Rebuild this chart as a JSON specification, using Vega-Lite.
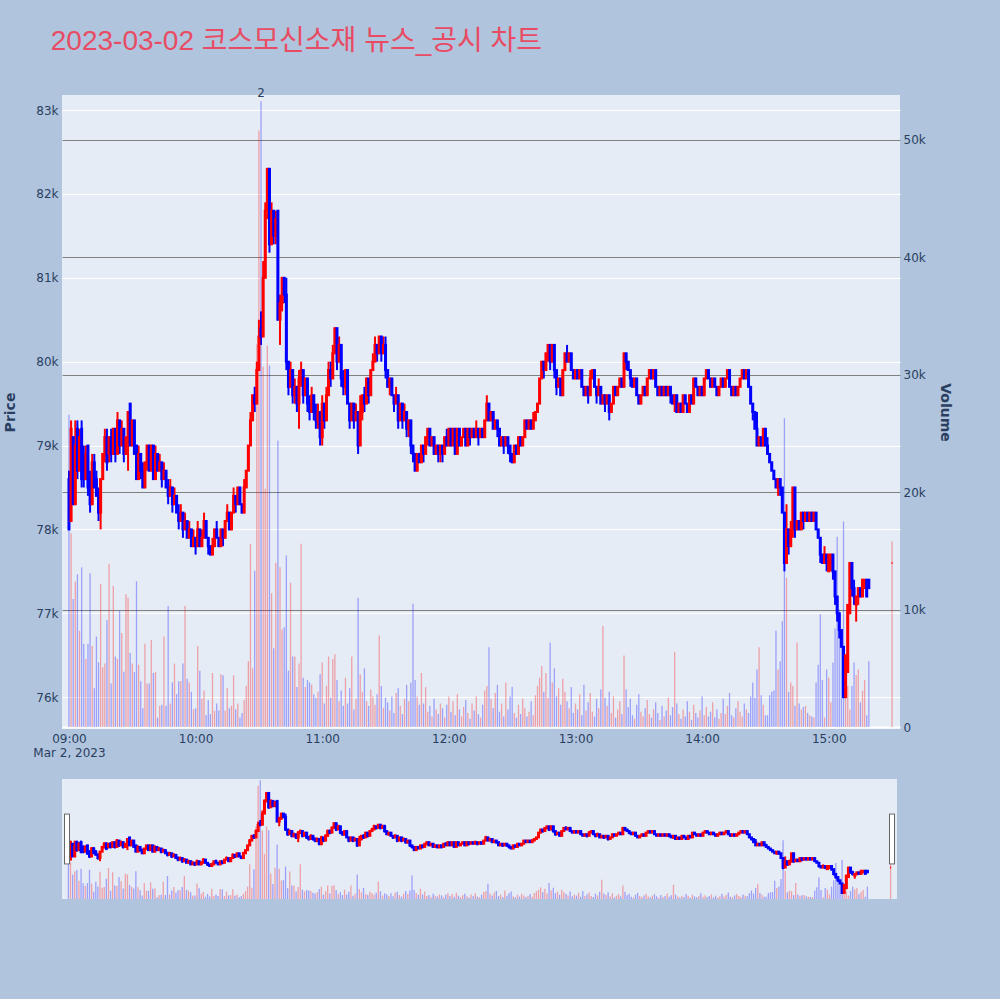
{
"$schema": "https://vega.github.io/schema/vega-lite/v6.json",
"background": "#B0C4DE",
"padding": {"left": 3, "right": 48, "top": 28, "bottom": 100},
"title": {"text": "2023-03-02 코스모신소재 뉴스_공시 차트", "anchor": "start", "dx": 47, "font": "Liberation Sans, Noto Sans CJK KR", "fontSize": 28, "fontWeight": "normal", "color": "#E84C64", "offset": 31},
"config": {"view": {"fill": "#E5ECF6", "stroke": null}, "axis": {"domain": false, "ticks": false, "labelFont": "DejaVu Sans", "labelFontSize": 12, "labelColor": "#2a3f5f", "titleFont": "DejaVu Sans", "titleFontSize": 14, "titleFontWeight": "bold", "titleColor": "#2a3f5f"}},
"datasets": {
"k": [
{"t":"2023-03-02T09:00","o":78600,"h":78700,"l":78000,"c":78000,"v":26600},
{"t":"2023-03-02T09:01","o":78100,"h":79300,"l":78100,"c":79200,"v":16500},
{"t":"2023-03-02T09:02","o":79100,"h":79100,"l":78300,"c":78300,"v":10900},
{"t":"2023-03-02T09:03","o":78300,"h":79300,"l":78300,"c":79000,"v":12400},
{"t":"2023-03-02T09:04","o":79200,"h":79300,"l":78600,"c":78700,"v":13000},
{"t":"2023-03-02T09:05","o":78700,"h":79200,"l":78700,"c":79100,"v":8200},
{"t":"2023-03-02T09:06","o":79200,"h":79300,"l":78500,"c":78600,"v":13600},
{"t":"2023-03-02T09:07","o":78900,"h":79000,"l":78500,"c":78600,"v":7100},
{"t":"2023-03-02T09:08","o":78600,"h":79000,"l":78600,"c":78900,"v":5800},
{"t":"2023-03-02T09:09","o":79000,"h":79000,"l":78400,"c":78500,"v":7100},
{"t":"2023-03-02T09:10","o":78600,"h":78700,"l":78200,"c":78300,"v":13100},
{"t":"2023-03-02T09:11","o":78300,"h":78900,"l":78300,"c":78800,"v":6900},
{"t":"2023-03-02T09:12","o":78800,"h":78900,"l":78500,"c":78500,"v":3300},
{"t":"2023-03-02T09:13","o":78600,"h":78700,"l":78400,"c":78400,"v":7700},
{"t":"2023-03-02T09:14","o":78400,"h":78500,"l":78100,"c":78200,"v":5500},
{"t":"2023-03-02T09:15","o":78200,"h":78600,"l":78000,"c":78600,"v":12200},
{"t":"2023-03-02T09:16","o":78600,"h":78900,"l":78600,"c":78900,"v":5100},
{"t":"2023-03-02T09:17","o":78900,"h":79200,"l":78800,"c":79100,"v":5400},
{"t":"2023-03-02T09:18","o":79100,"h":79200,"l":78700,"c":78800,"v":9100},
{"t":"2023-03-02T09:19","o":78900,"h":79100,"l":78800,"c":79100,"v":13900},
{"t":"2023-03-02T09:20","o":79100,"h":79200,"l":78800,"c":78900,"v":3700},
{"t":"2023-03-02T09:21","o":78900,"h":79200,"l":78900,"c":79200,"v":12000},
{"t":"2023-03-02T09:22","o":79200,"h":79200,"l":78800,"c":78900,"v":6000},
{"t":"2023-03-02T09:23","o":78900,"h":79400,"l":78900,"c":79300,"v":5800},
{"t":"2023-03-02T09:24","o":79300,"h":79300,"l":78900,"c":79000,"v":9900},
{"t":"2023-03-02T09:25","o":79000,"h":79300,"l":79000,"c":79200,"v":8000},
{"t":"2023-03-02T09:26","o":79200,"h":79200,"l":78800,"c":78900,"v":4700},
{"t":"2023-03-02T09:27","o":78900,"h":79100,"l":78900,"c":79100,"v":11300},
{"t":"2023-03-02T09:28","o":79100,"h":79400,"l":78700,"c":79400,"v":11000},
{"t":"2023-03-02T09:29","o":79500,"h":79500,"l":79000,"c":79000,"v":6300},
{"t":"2023-03-02T09:30","o":79000,"h":79300,"l":79000,"c":79300,"v":5400},
{"t":"2023-03-02T09:31","o":79300,"h":79300,"l":78900,"c":78900,"v":4700},
{"t":"2023-03-02T09:32","o":79000,"h":79000,"l":78600,"c":78600,"v":12400},
{"t":"2023-03-02T09:33","o":78600,"h":79000,"l":78600,"c":78900,"v":5300},
{"t":"2023-03-02T09:34","o":78900,"h":78900,"l":78600,"c":78700,"v":3900},
{"t":"2023-03-02T09:35","o":78700,"h":78800,"l":78500,"c":78500,"v":1600},
{"t":"2023-03-02T09:36","o":78500,"h":78800,"l":78500,"c":78800,"v":7100},
{"t":"2023-03-02T09:37","o":78800,"h":79000,"l":78700,"c":79000,"v":3700},
{"t":"2023-03-02T09:38","o":79000,"h":79000,"l":78700,"c":78700,"v":3700},
{"t":"2023-03-02T09:39","o":78700,"h":79000,"l":78700,"c":79000,"v":7400},
{"t":"2023-03-02T09:40","o":79000,"h":79000,"l":78600,"c":78600,"v":4600},
{"t":"2023-03-02T09:41","o":78600,"h":79000,"l":78600,"c":78900,"v":4700},
{"t":"2023-03-02T09:42","o":78900,"h":78900,"l":78700,"c":78700,"v":800},
{"t":"2023-03-02T09:43","o":78700,"h":78900,"l":78700,"c":78800,"v":1800},
{"t":"2023-03-02T09:44","o":78800,"h":78800,"l":78500,"c":78600,"v":1900},
{"t":"2023-03-02T09:45","o":78600,"h":78800,"l":78600,"c":78700,"v":7700},
{"t":"2023-03-02T09:46","o":78700,"h":78700,"l":78500,"c":78500,"v":1800},
{"t":"2023-03-02T09:47","o":78500,"h":78600,"l":78300,"c":78400,"v":10300},
{"t":"2023-03-02T09:48","o":78400,"h":78600,"l":78400,"c":78500,"v":2000},
{"t":"2023-03-02T09:49","o":78500,"h":78500,"l":78200,"c":78300,"v":3800},
{"t":"2023-03-02T09:50","o":78300,"h":78500,"l":78300,"c":78400,"v":5400},
{"t":"2023-03-02T09:51","o":78400,"h":78400,"l":78200,"c":78200,"v":2800},
{"t":"2023-03-02T09:52","o":78200,"h":78300,"l":78000,"c":78100,"v":3900},
{"t":"2023-03-02T09:53","o":78100,"h":78300,"l":78100,"c":78200,"v":3900},
{"t":"2023-03-02T09:54","o":78200,"h":78200,"l":77900,"c":78000,"v":5400},
{"t":"2023-03-02T09:55","o":78000,"h":78200,"l":78000,"c":78100,"v":10300},
{"t":"2023-03-02T09:56","o":78100,"h":78100,"l":77900,"c":77900,"v":4100},
{"t":"2023-03-02T09:57","o":77900,"h":78100,"l":77900,"c":78000,"v":3800},
{"t":"2023-03-02T09:58","o":78000,"h":78000,"l":77800,"c":77800,"v":3000},
{"t":"2023-03-02T09:59","o":77800,"h":78000,"l":77800,"c":77900,"v":1500},
{"t":"2023-03-02T10:00","o":77900,"h":77900,"l":77700,"c":77800,"v":1600},
{"t":"2023-03-02T10:01","o":77800,"h":78100,"l":77800,"c":78000,"v":6900},
{"t":"2023-03-02T10:02","o":78000,"h":78000,"l":77800,"c":77800,"v":4800},
{"t":"2023-03-02T10:03","o":77800,"h":78000,"l":77800,"c":77900,"v":2400},
{"t":"2023-03-02T10:04","o":77900,"h":78200,"l":77900,"c":78100,"v":3100},
{"t":"2023-03-02T10:05","o":78100,"h":78100,"l":77900,"c":77900,"v":1000},
{"t":"2023-03-02T10:06","o":77900,"h":77900,"l":77700,"c":77800,"v":2300},
{"t":"2023-03-02T10:07","o":77800,"h":77800,"l":77700,"c":77700,"v":1100},
{"t":"2023-03-02T10:08","o":77700,"h":77900,"l":77700,"c":77800,"v":4600},
{"t":"2023-03-02T10:09","o":77800,"h":78000,"l":77800,"c":78000,"v":1400},
{"t":"2023-03-02T10:10","o":78000,"h":78100,"l":77900,"c":77900,"v":2000},
{"t":"2023-03-02T10:11","o":77900,"h":77900,"l":77800,"c":77800,"v":1400},
{"t":"2023-03-02T10:12","o":77800,"h":78000,"l":77800,"c":78000,"v":4500},
{"t":"2023-03-02T10:13","o":78000,"h":78000,"l":77800,"c":77900,"v":4400},
{"t":"2023-03-02T10:14","o":77900,"h":78100,"l":77900,"c":78100,"v":1400},
{"t":"2023-03-02T10:15","o":78100,"h":78300,"l":78100,"c":78200,"v":3300},
{"t":"2023-03-02T10:16","o":78200,"h":78200,"l":78000,"c":78000,"v":1600},
{"t":"2023-03-02T10:17","o":78000,"h":78200,"l":78000,"c":78200,"v":1800},
{"t":"2023-03-02T10:18","o":78200,"h":78500,"l":78200,"c":78400,"v":4400},
{"t":"2023-03-02T10:19","o":78400,"h":78400,"l":78200,"c":78300,"v":1500},
{"t":"2023-03-02T10:20","o":78300,"h":78500,"l":78300,"c":78500,"v":2000},
{"t":"2023-03-02T10:21","o":78500,"h":78500,"l":78300,"c":78300,"v":800},
{"t":"2023-03-02T10:22","o":78300,"h":78300,"l":78200,"c":78200,"v":1200},
{"t":"2023-03-02T10:23","o":78200,"h":78600,"l":78200,"c":78500,"v":2300},
{"t":"2023-03-02T10:24","o":78500,"h":78700,"l":78500,"c":78700,"v":3500},
{"t":"2023-03-02T10:25","o":78700,"h":79000,"l":78700,"c":79000,"v":5600},
{"t":"2023-03-02T10:26","o":79000,"h":79400,"l":79000,"c":79300,"v":15600},
{"t":"2023-03-02T10:27","o":79300,"h":79600,"l":79300,"c":79600,"v":5000},
{"t":"2023-03-02T10:28","o":79600,"h":79700,"l":79400,"c":79500,"v":13300},
{"t":"2023-03-02T10:29","o":79500,"h":80000,"l":79500,"c":79900,"v":32600},
{"t":"2023-03-02T10:30","o":79900,"h":80500,"l":79900,"c":80300,"v":50800},
{"t":"2023-03-02T10:31","o":80400,"h":80600,"l":80200,"c":80300,"v":53300},
{"t":"2023-03-02T10:32","o":80300,"h":81200,"l":80300,"c":81000,"v":30700},
{"t":"2023-03-02T10:33","o":81000,"h":81900,"l":81000,"c":81800,"v":20300},
{"t":"2023-03-02T10:34","o":81800,"h":82300,"l":81700,"c":82300,"v":32500},
{"t":"2023-03-02T10:35","o":82300,"h":82300,"l":81300,"c":81400,"v":30800},
{"t":"2023-03-02T10:36","o":81400,"h":81900,"l":81400,"c":81800,"v":11400},
{"t":"2023-03-02T10:37","o":81800,"h":81800,"l":81400,"c":81500,"v":6700},
{"t":"2023-03-02T10:38","o":81500,"h":81800,"l":81400,"c":81700,"v":14000},
{"t":"2023-03-02T10:39","o":81800,"h":81800,"l":80500,"c":80500,"v":24400},
{"t":"2023-03-02T10:40","o":80500,"h":80800,"l":80200,"c":80700,"v":13600},
{"t":"2023-03-02T10:41","o":80700,"h":81000,"l":80600,"c":81000,"v":8300},
{"t":"2023-03-02T10:42","o":81000,"h":81000,"l":80700,"c":80800,"v":8500},
{"t":"2023-03-02T10:43","o":80800,"h":81000,"l":79900,"c":80000,"v":14600},
{"t":"2023-03-02T10:44","o":80000,"h":80000,"l":79600,"c":79700,"v":4800},
{"t":"2023-03-02T10:45","o":79700,"h":80000,"l":79700,"c":79900,"v":12300},
{"t":"2023-03-02T10:46","o":79900,"h":79900,"l":79500,"c":79600,"v":6000},
{"t":"2023-03-02T10:47","o":79600,"h":79800,"l":79500,"c":79700,"v":6000},
{"t":"2023-03-02T10:48","o":79700,"h":79700,"l":79400,"c":79500,"v":3400},
{"t":"2023-03-02T10:49","o":79500,"h":79900,"l":79200,"c":79800,"v":5400},
{"t":"2023-03-02T10:50","o":79800,"h":80000,"l":79700,"c":79900,"v":15600},
{"t":"2023-03-02T10:51","o":79900,"h":79900,"l":79500,"c":79600,"v":4200},
{"t":"2023-03-02T10:52","o":79600,"h":79800,"l":79600,"c":79800,"v":3400},
{"t":"2023-03-02T10:53","o":79800,"h":79800,"l":79400,"c":79500,"v":4000},
{"t":"2023-03-02T10:54","o":79500,"h":79600,"l":79300,"c":79400,"v":3800},
{"t":"2023-03-02T10:55","o":79400,"h":79700,"l":79400,"c":79600,"v":3600},
{"t":"2023-03-02T10:56","o":79600,"h":79600,"l":79300,"c":79400,"v":2800},
{"t":"2023-03-02T10:57","o":79400,"h":79500,"l":79200,"c":79300,"v":2500},
{"t":"2023-03-02T10:58","o":79300,"h":79500,"l":79200,"c":79400,"v":3000},
{"t":"2023-03-02T10:59","o":79400,"h":79400,"l":79000,"c":79100,"v":4500},
{"t":"2023-03-02T11:00","o":79100,"h":79600,"l":79000,"c":79500,"v":5500},
{"t":"2023-03-02T11:01","o":79500,"h":79500,"l":79200,"c":79300,"v":2000},
{"t":"2023-03-02T11:02","o":79300,"h":79700,"l":79300,"c":79600,"v":3500},
{"t":"2023-03-02T11:03","o":79600,"h":80000,"l":79600,"c":79900,"v":6000},
{"t":"2023-03-02T11:04","o":79900,"h":80000,"l":79700,"c":79800,"v":2500},
{"t":"2023-03-02T11:05","o":79800,"h":80200,"l":79800,"c":80100,"v":5800},
{"t":"2023-03-02T11:06","o":80100,"h":80400,"l":80100,"c":80400,"v":6200},
{"t":"2023-03-02T11:07","o":80400,"h":80400,"l":79900,"c":80000,"v":4000},
{"t":"2023-03-02T11:08","o":80000,"h":80300,"l":80000,"c":80200,"v":2200},
{"t":"2023-03-02T11:09","o":80200,"h":80200,"l":79700,"c":79800,"v":3100},
{"t":"2023-03-02T11:10","o":79800,"h":79900,"l":79600,"c":79700,"v":1800},
{"t":"2023-03-02T11:11","o":79700,"h":79900,"l":79600,"c":79900,"v":4200},
{"t":"2023-03-02T11:12","o":79900,"h":79900,"l":79500,"c":79500,"v":2000},
{"t":"2023-03-02T11:13","o":79500,"h":79500,"l":79200,"c":79300,"v":3300},
{"t":"2023-03-02T11:14","o":79300,"h":79500,"l":79300,"c":79500,"v":6000},
{"t":"2023-03-02T11:15","o":79500,"h":79500,"l":79200,"c":79300,"v":1500},
{"t":"2023-03-02T11:16","o":79300,"h":79500,"l":79300,"c":79400,"v":2400},
{"t":"2023-03-02T11:17","o":79400,"h":79400,"l":78900,"c":79000,"v":11000},
{"t":"2023-03-02T11:18","o":79000,"h":79600,"l":79000,"c":79400,"v":4500},
{"t":"2023-03-02T11:19","o":79400,"h":79600,"l":79300,"c":79600,"v":3000},
{"t":"2023-03-02T11:20","o":79600,"h":79700,"l":79400,"c":79500,"v":5000},
{"t":"2023-03-02T11:21","o":79500,"h":79800,"l":79500,"c":79800,"v":2200},
{"t":"2023-03-02T11:22","o":79800,"h":79800,"l":79500,"c":79600,"v":1800},
{"t":"2023-03-02T11:23","o":79600,"h":79900,"l":79600,"c":79900,"v":3200},
{"t":"2023-03-02T11:24","o":79900,"h":80100,"l":79900,"c":80000,"v":2600},
{"t":"2023-03-02T11:25","o":80000,"h":80300,"l":80000,"c":80200,"v":1900},
{"t":"2023-03-02T11:26","o":80200,"h":80200,"l":80000,"c":80100,"v":2800},
{"t":"2023-03-02T11:27","o":80100,"h":80300,"l":80100,"c":80300,"v":7800},
{"t":"2023-03-02T11:28","o":80300,"h":80300,"l":80000,"c":80100,"v":3500},
{"t":"2023-03-02T11:29","o":80100,"h":80300,"l":80100,"c":80200,"v":1600},
{"t":"2023-03-02T11:30","o":80200,"h":80300,"l":79800,"c":79900,"v":2500},
{"t":"2023-03-02T11:31","o":79900,"h":79900,"l":79700,"c":79700,"v":2100},
{"t":"2023-03-02T11:32","o":79700,"h":79800,"l":79600,"c":79800,"v":1400},
{"t":"2023-03-02T11:33","o":79800,"h":79800,"l":79600,"c":79600,"v":2600},
{"t":"2023-03-02T11:34","o":79600,"h":79600,"l":79400,"c":79500,"v":1200},
{"t":"2023-03-02T11:35","o":79500,"h":79700,"l":79500,"c":79600,"v":2900},
{"t":"2023-03-02T11:36","o":79600,"h":79600,"l":79200,"c":79300,"v":3300},
{"t":"2023-03-02T11:37","o":79300,"h":79500,"l":79300,"c":79500,"v":1800},
{"t":"2023-03-02T11:38","o":79500,"h":79500,"l":79200,"c":79300,"v":1100},
{"t":"2023-03-02T11:39","o":79300,"h":79500,"l":79300,"c":79400,"v":2400},
{"t":"2023-03-02T11:40","o":79400,"h":79400,"l":79100,"c":79200,"v":3600},
{"t":"2023-03-02T11:41","o":79200,"h":79300,"l":79100,"c":79300,"v":2200},
{"t":"2023-03-02T11:42","o":79300,"h":79300,"l":78900,"c":79000,"v":3800},
{"t":"2023-03-02T11:43","o":79000,"h":79000,"l":78800,"c":78900,"v":10500},
{"t":"2023-03-02T11:44","o":78900,"h":78900,"l":78700,"c":78700,"v":4000},
{"t":"2023-03-02T11:45","o":78700,"h":78900,"l":78700,"c":78900,"v":2600},
{"t":"2023-03-02T11:46","o":78900,"h":78900,"l":78800,"c":78800,"v":1900},
{"t":"2023-03-02T11:47","o":78800,"h":79000,"l":78800,"c":79000,"v":4600},
{"t":"2023-03-02T11:48","o":79000,"h":79000,"l":78800,"c":78900,"v":2000},
{"t":"2023-03-02T11:49","o":78900,"h":79100,"l":78900,"c":79100,"v":3400},
{"t":"2023-03-02T11:50","o":79100,"h":79200,"l":79000,"c":79200,"v":1300},
{"t":"2023-03-02T11:51","o":79200,"h":79200,"l":79000,"c":79000,"v":1800},
{"t":"2023-03-02T11:52","o":79000,"h":79100,"l":79000,"c":79100,"v":900},
{"t":"2023-03-02T11:53","o":79100,"h":79100,"l":78900,"c":78900,"v":2400},
{"t":"2023-03-02T11:54","o":78900,"h":79000,"l":78900,"c":79000,"v":1500},
{"t":"2023-03-02T11:55","o":79000,"h":79000,"l":78800,"c":78900,"v":1100},
{"t":"2023-03-02T11:56","o":78900,"h":79000,"l":78800,"c":79000,"v":2000},
{"t":"2023-03-02T11:57","o":79000,"h":79000,"l":78800,"c":78900,"v":1600},
{"t":"2023-03-02T11:58","o":78900,"h":79100,"l":78900,"c":79100,"v":800},
{"t":"2023-03-02T11:59","o":79100,"h":79200,"l":79000,"c":79000,"v":1900},
{"t":"2023-03-02T12:00","o":79000,"h":79200,"l":79000,"c":79200,"v":2600},
{"t":"2023-03-02T12:01","o":79200,"h":79200,"l":79000,"c":79000,"v":1300},
{"t":"2023-03-02T12:02","o":79000,"h":79200,"l":79000,"c":79200,"v":2200},
{"t":"2023-03-02T12:03","o":79200,"h":79200,"l":78900,"c":78900,"v":1000},
{"t":"2023-03-02T12:04","o":78900,"h":79200,"l":78900,"c":79200,"v":2800},
{"t":"2023-03-02T12:05","o":79200,"h":79200,"l":79000,"c":79000,"v":1500},
{"t":"2023-03-02T12:06","o":79000,"h":79100,"l":79000,"c":79100,"v":900},
{"t":"2023-03-02T12:07","o":79100,"h":79200,"l":79100,"c":79200,"v":1700},
{"t":"2023-03-02T12:08","o":79200,"h":79200,"l":79000,"c":79000,"v":2300},
{"t":"2023-03-02T12:09","o":79000,"h":79200,"l":79000,"c":79200,"v":1200},
{"t":"2023-03-02T12:10","o":79200,"h":79200,"l":79000,"c":79100,"v":700},
{"t":"2023-03-02T12:11","o":79100,"h":79200,"l":79100,"c":79200,"v":2000},
{"t":"2023-03-02T12:12","o":79200,"h":79200,"l":79100,"c":79100,"v":1400},
{"t":"2023-03-02T12:13","o":79100,"h":79300,"l":79100,"c":79200,"v":2600},
{"t":"2023-03-02T12:14","o":79200,"h":79200,"l":79000,"c":79100,"v":1100},
{"t":"2023-03-02T12:15","o":79100,"h":79200,"l":79100,"c":79200,"v":800},
{"t":"2023-03-02T12:16","o":79200,"h":79200,"l":79100,"c":79100,"v":1900},
{"t":"2023-03-02T12:17","o":79100,"h":79300,"l":79100,"c":79300,"v":3100},
{"t":"2023-03-02T12:18","o":79300,"h":79600,"l":79300,"c":79500,"v":3500},
{"t":"2023-03-02T12:19","o":79500,"h":79500,"l":79300,"c":79300,"v":6800},
{"t":"2023-03-02T12:20","o":79300,"h":79400,"l":79300,"c":79400,"v":2400},
{"t":"2023-03-02T12:21","o":79400,"h":79400,"l":79200,"c":79200,"v":1600},
{"t":"2023-03-02T12:22","o":79200,"h":79300,"l":79200,"c":79300,"v":2900},
{"t":"2023-03-02T12:23","o":79300,"h":79300,"l":79100,"c":79200,"v":3600},
{"t":"2023-03-02T12:24","o":79200,"h":79200,"l":79000,"c":79000,"v":1300},
{"t":"2023-03-02T12:25","o":79000,"h":79100,"l":79000,"c":79100,"v":2000},
{"t":"2023-03-02T12:26","o":79100,"h":79100,"l":78900,"c":79000,"v":900},
{"t":"2023-03-02T12:27","o":79000,"h":79100,"l":79000,"c":79100,"v":3800},
{"t":"2023-03-02T12:28","o":79100,"h":79100,"l":78900,"c":79000,"v":1500},
{"t":"2023-03-02T12:29","o":79000,"h":79000,"l":78800,"c":78900,"v":2600},
{"t":"2023-03-02T12:30","o":78900,"h":78900,"l":78800,"c":78800,"v":3400},
{"t":"2023-03-02T12:31","o":78800,"h":79000,"l":78800,"c":79000,"v":1200},
{"t":"2023-03-02T12:32","o":79000,"h":79000,"l":78900,"c":78900,"v":800},
{"t":"2023-03-02T12:33","o":78900,"h":79100,"l":78900,"c":79100,"v":1900},
{"t":"2023-03-02T12:34","o":79100,"h":79100,"l":79000,"c":79000,"v":1100},
{"t":"2023-03-02T12:35","o":79000,"h":79100,"l":79000,"c":79100,"v":2400},
{"t":"2023-03-02T12:36","o":79100,"h":79300,"l":79100,"c":79300,"v":1600},
{"t":"2023-03-02T12:37","o":79300,"h":79300,"l":79200,"c":79200,"v":900},
{"t":"2023-03-02T12:38","o":79200,"h":79300,"l":79200,"c":79300,"v":1300},
{"t":"2023-03-02T12:39","o":79300,"h":79300,"l":79200,"c":79200,"v":2200},
{"t":"2023-03-02T12:40","o":79200,"h":79400,"l":79200,"c":79300,"v":1000},
{"t":"2023-03-02T12:41","o":79300,"h":79400,"l":79300,"c":79400,"v":2700},
{"t":"2023-03-02T12:42","o":79400,"h":79500,"l":79400,"c":79500,"v":3500},
{"t":"2023-03-02T12:43","o":79500,"h":79800,"l":79500,"c":79800,"v":4200},
{"t":"2023-03-02T12:44","o":79800,"h":80000,"l":79800,"c":80000,"v":5200},
{"t":"2023-03-02T12:45","o":80000,"h":80000,"l":79800,"c":79900,"v":3000},
{"t":"2023-03-02T12:46","o":79900,"h":80100,"l":79900,"c":80100,"v":4600},
{"t":"2023-03-02T12:47","o":80100,"h":80200,"l":80000,"c":80200,"v":2500},
{"t":"2023-03-02T12:48","o":80200,"h":80200,"l":79900,"c":80000,"v":7200},
{"t":"2023-03-02T12:49","o":80000,"h":80200,"l":80000,"c":80200,"v":3800},
{"t":"2023-03-02T12:50","o":80200,"h":80200,"l":79800,"c":79900,"v":5000},
{"t":"2023-03-02T12:51","o":79900,"h":79900,"l":79600,"c":79700,"v":2600},
{"t":"2023-03-02T12:52","o":79700,"h":79800,"l":79700,"c":79800,"v":3300},
{"t":"2023-03-02T12:53","o":79800,"h":79800,"l":79600,"c":79600,"v":1900},
{"t":"2023-03-02T12:54","o":79600,"h":79900,"l":79600,"c":79900,"v":4100},
{"t":"2023-03-02T12:55","o":79900,"h":80100,"l":79900,"c":80100,"v":3000},
{"t":"2023-03-02T12:56","o":80100,"h":80200,"l":80000,"c":80000,"v":2200},
{"t":"2023-03-02T12:57","o":80000,"h":80100,"l":80000,"c":80100,"v":1600},
{"t":"2023-03-02T12:58","o":80100,"h":80100,"l":79900,"c":79900,"v":3400},
{"t":"2023-03-02T12:59","o":79900,"h":79900,"l":79800,"c":79800,"v":1200},
{"t":"2023-03-02T13:00","o":79800,"h":79900,"l":79800,"c":79900,"v":2000},
{"t":"2023-03-02T13:01","o":79900,"h":79900,"l":79800,"c":79800,"v":1500},
{"t":"2023-03-02T13:02","o":79800,"h":79900,"l":79800,"c":79900,"v":2800},
{"t":"2023-03-02T13:03","o":79900,"h":79900,"l":79700,"c":79700,"v":1000},
{"t":"2023-03-02T13:04","o":79700,"h":79700,"l":79600,"c":79600,"v":3600},
{"t":"2023-03-02T13:05","o":79600,"h":79700,"l":79600,"c":79700,"v":1400},
{"t":"2023-03-02T13:06","o":79700,"h":79700,"l":79500,"c":79600,"v":2100},
{"t":"2023-03-02T13:07","o":79600,"h":79900,"l":79600,"c":79800,"v":2900},
{"t":"2023-03-02T13:08","o":79800,"h":79900,"l":79800,"c":79900,"v":1300},
{"t":"2023-03-02T13:09","o":79900,"h":79900,"l":79700,"c":79700,"v":900},
{"t":"2023-03-02T13:10","o":79700,"h":79700,"l":79500,"c":79600,"v":2400},
{"t":"2023-03-02T13:11","o":79600,"h":79800,"l":79600,"c":79700,"v":1600},
{"t":"2023-03-02T13:12","o":79700,"h":79700,"l":79500,"c":79500,"v":3200},
{"t":"2023-03-02T13:13","o":79500,"h":79600,"l":79500,"c":79600,"v":8600},
{"t":"2023-03-02T13:14","o":79600,"h":79600,"l":79400,"c":79500,"v":2500},
{"t":"2023-03-02T13:15","o":79500,"h":79600,"l":79500,"c":79600,"v":1800},
{"t":"2023-03-02T13:16","o":79600,"h":79600,"l":79300,"c":79400,"v":3000},
{"t":"2023-03-02T13:17","o":79400,"h":79500,"l":79400,"c":79500,"v":1200},
{"t":"2023-03-02T13:18","o":79500,"h":79700,"l":79500,"c":79700,"v":2600},
{"t":"2023-03-02T13:19","o":79700,"h":79700,"l":79600,"c":79600,"v":800},
{"t":"2023-03-02T13:20","o":79600,"h":79700,"l":79600,"c":79700,"v":1500},
{"t":"2023-03-02T13:21","o":79700,"h":79800,"l":79700,"c":79800,"v":2200},
{"t":"2023-03-02T13:22","o":79800,"h":79800,"l":79700,"c":79700,"v":1100},
{"t":"2023-03-02T13:23","o":79700,"h":80100,"l":79700,"c":80100,"v":6100},
{"t":"2023-03-02T13:24","o":80100,"h":80100,"l":79900,"c":80000,"v":3200},
{"t":"2023-03-02T13:25","o":80000,"h":80000,"l":79900,"c":79900,"v":1700},
{"t":"2023-03-02T13:26","o":79900,"h":79900,"l":79700,"c":79800,"v":2400},
{"t":"2023-03-02T13:27","o":79800,"h":79800,"l":79700,"c":79700,"v":1000},
{"t":"2023-03-02T13:28","o":79700,"h":79800,"l":79700,"c":79800,"v":700},
{"t":"2023-03-02T13:29","o":79800,"h":79800,"l":79600,"c":79600,"v":1900},
{"t":"2023-03-02T13:30","o":79600,"h":79600,"l":79500,"c":79500,"v":2800},
{"t":"2023-03-02T13:31","o":79500,"h":79600,"l":79500,"c":79600,"v":1300},
{"t":"2023-03-02T13:32","o":79600,"h":79700,"l":79600,"c":79700,"v":900},
{"t":"2023-03-02T13:33","o":79700,"h":79700,"l":79600,"c":79600,"v":1600},
{"t":"2023-03-02T13:34","o":79600,"h":79800,"l":79600,"c":79800,"v":2300},
{"t":"2023-03-02T13:35","o":79800,"h":79900,"l":79800,"c":79900,"v":1100},
{"t":"2023-03-02T13:36","o":79900,"h":79900,"l":79800,"c":79800,"v":800},
{"t":"2023-03-02T13:37","o":79800,"h":79900,"l":79800,"c":79900,"v":1500},
{"t":"2023-03-02T13:38","o":79900,"h":79900,"l":79700,"c":79700,"v":2100},
{"t":"2023-03-02T13:39","o":79700,"h":79700,"l":79600,"c":79600,"v":1200},
{"t":"2023-03-02T13:40","o":79600,"h":79700,"l":79600,"c":79700,"v":600},
{"t":"2023-03-02T13:41","o":79700,"h":79700,"l":79600,"c":79600,"v":1800},
{"t":"2023-03-02T13:42","o":79600,"h":79700,"l":79600,"c":79700,"v":900},
{"t":"2023-03-02T13:43","o":79700,"h":79700,"l":79600,"c":79600,"v":1400},
{"t":"2023-03-02T13:44","o":79600,"h":79700,"l":79600,"c":79700,"v":2500},
{"t":"2023-03-02T13:45","o":79700,"h":79700,"l":79500,"c":79600,"v":1000},
{"t":"2023-03-02T13:46","o":79600,"h":79600,"l":79500,"c":79500,"v":1700},
{"t":"2023-03-02T13:47","o":79500,"h":79600,"l":79400,"c":79600,"v":6400},
{"t":"2023-03-02T13:48","o":79600,"h":79600,"l":79400,"c":79400,"v":2000},
{"t":"2023-03-02T13:49","o":79400,"h":79500,"l":79400,"c":79500,"v":1100},
{"t":"2023-03-02T13:50","o":79500,"h":79500,"l":79400,"c":79400,"v":700},
{"t":"2023-03-02T13:51","o":79400,"h":79600,"l":79400,"c":79600,"v":1500},
{"t":"2023-03-02T13:52","o":79600,"h":79600,"l":79500,"c":79500,"v":900},
{"t":"2023-03-02T13:53","o":79500,"h":79500,"l":79400,"c":79400,"v":2200},
{"t":"2023-03-02T13:54","o":79400,"h":79600,"l":79400,"c":79600,"v":1300},
{"t":"2023-03-02T13:55","o":79600,"h":79600,"l":79500,"c":79500,"v":600},
{"t":"2023-03-02T13:56","o":79500,"h":79800,"l":79500,"c":79800,"v":1900},
{"t":"2023-03-02T13:57","o":79800,"h":79800,"l":79700,"c":79700,"v":1200},
{"t":"2023-03-02T13:58","o":79700,"h":79700,"l":79600,"c":79600,"v":800},
{"t":"2023-03-02T13:59","o":79600,"h":79700,"l":79600,"c":79700,"v":1400},
{"t":"2023-03-02T14:00","o":79700,"h":79700,"l":79600,"c":79600,"v":2600},
{"t":"2023-03-02T14:01","o":79600,"h":79800,"l":79600,"c":79800,"v":1000},
{"t":"2023-03-02T14:02","o":79800,"h":79900,"l":79800,"c":79900,"v":1700},
{"t":"2023-03-02T14:03","o":79900,"h":79900,"l":79800,"c":79800,"v":900},
{"t":"2023-03-02T14:04","o":79800,"h":79800,"l":79700,"c":79700,"v":1300},
{"t":"2023-03-02T14:05","o":79700,"h":79800,"l":79700,"c":79800,"v":2100},
{"t":"2023-03-02T14:06","o":79800,"h":79800,"l":79700,"c":79700,"v":800},
{"t":"2023-03-02T14:07","o":79700,"h":79700,"l":79600,"c":79600,"v":1500},
{"t":"2023-03-02T14:08","o":79600,"h":79700,"l":79600,"c":79700,"v":700},
{"t":"2023-03-02T14:09","o":79700,"h":79800,"l":79700,"c":79800,"v":1200},
{"t":"2023-03-02T14:10","o":79800,"h":79800,"l":79700,"c":79700,"v":2400},
{"t":"2023-03-02T14:11","o":79700,"h":79800,"l":79700,"c":79800,"v":1100},
{"t":"2023-03-02T14:12","o":79800,"h":79900,"l":79800,"c":79900,"v":1800},
{"t":"2023-03-02T14:13","o":79900,"h":79900,"l":79700,"c":79700,"v":2900},
{"t":"2023-03-02T14:14","o":79700,"h":79700,"l":79600,"c":79600,"v":1000},
{"t":"2023-03-02T14:15","o":79600,"h":79700,"l":79600,"c":79700,"v":800},
{"t":"2023-03-02T14:16","o":79700,"h":79700,"l":79600,"c":79600,"v":1600},
{"t":"2023-03-02T14:17","o":79600,"h":79700,"l":79600,"c":79700,"v":2200},
{"t":"2023-03-02T14:18","o":79700,"h":79800,"l":79700,"c":79800,"v":1300},
{"t":"2023-03-02T14:19","o":79800,"h":79900,"l":79800,"c":79900,"v":900},
{"t":"2023-03-02T14:20","o":79900,"h":79900,"l":79800,"c":79800,"v":2000},
{"t":"2023-03-02T14:21","o":79800,"h":79900,"l":79800,"c":79900,"v":1500},
{"t":"2023-03-02T14:22","o":79900,"h":79900,"l":79700,"c":79700,"v":1200},
{"t":"2023-03-02T14:23","o":79700,"h":79700,"l":79500,"c":79500,"v":2600},
{"t":"2023-03-02T14:24","o":79500,"h":79500,"l":79300,"c":79400,"v":3800},
{"t":"2023-03-02T14:25","o":79400,"h":79400,"l":79200,"c":79200,"v":2500},
{"t":"2023-03-02T14:26","o":79200,"h":79400,"l":79000,"c":79000,"v":4900},
{"t":"2023-03-02T14:27","o":79000,"h":79100,"l":79000,"c":79100,"v":6800},
{"t":"2023-03-02T14:28","o":79100,"h":79100,"l":79000,"c":79000,"v":2700},
{"t":"2023-03-02T14:29","o":79000,"h":79200,"l":79000,"c":79200,"v":1900},
{"t":"2023-03-02T14:30","o":79200,"h":79200,"l":79000,"c":79000,"v":1000},
{"t":"2023-03-02T14:31","o":79000,"h":79100,"l":78900,"c":78900,"v":1000},
{"t":"2023-03-02T14:32","o":78900,"h":78900,"l":78800,"c":78800,"v":2700},
{"t":"2023-03-02T14:33","o":78800,"h":78800,"l":78700,"c":78700,"v":3000},
{"t":"2023-03-02T14:34","o":78700,"h":78700,"l":78600,"c":78600,"v":3100},
{"t":"2023-03-02T14:35","o":78600,"h":78600,"l":78500,"c":78500,"v":8200},
{"t":"2023-03-02T14:36","o":78500,"h":78600,"l":78400,"c":78600,"v":4900},
{"t":"2023-03-02T14:37","o":78600,"h":78600,"l":78400,"c":78500,"v":5600},
{"t":"2023-03-02T14:38","o":78500,"h":78500,"l":78200,"c":78200,"v":9000},
{"t":"2023-03-02T14:39","o":78200,"h":78200,"l":77500,"c":77600,"v":26300},
{"t":"2023-03-02T14:40","o":77600,"h":78300,"l":77600,"c":78000,"v":12700},
{"t":"2023-03-02T14:41","o":78000,"h":78000,"l":77700,"c":77800,"v":3000},
{"t":"2023-03-02T14:42","o":77800,"h":78100,"l":77800,"c":78000,"v":3800},
{"t":"2023-03-02T14:43","o":78000,"h":78500,"l":77900,"c":78500,"v":3500},
{"t":"2023-03-02T14:44","o":78500,"h":78500,"l":77900,"c":78000,"v":1800},
{"t":"2023-03-02T14:45","o":78000,"h":78100,"l":78000,"c":78100,"v":7200},
{"t":"2023-03-02T14:46","o":78100,"h":78100,"l":78000,"c":78000,"v":2000},
{"t":"2023-03-02T14:47","o":78000,"h":78200,"l":78000,"c":78200,"v":1500},
{"t":"2023-03-02T14:48","o":78200,"h":78200,"l":78000,"c":78100,"v":1700},
{"t":"2023-03-02T14:49","o":78100,"h":78200,"l":78100,"c":78200,"v":1800},
{"t":"2023-03-02T14:50","o":78200,"h":78200,"l":78100,"c":78100,"v":1200},
{"t":"2023-03-02T14:51","o":78100,"h":78200,"l":78100,"c":78200,"v":1000},
{"t":"2023-03-02T14:52","o":78200,"h":78200,"l":78100,"c":78100,"v":900},
{"t":"2023-03-02T14:53","o":78100,"h":78200,"l":78100,"c":78200,"v":800},
{"t":"2023-03-02T14:54","o":78200,"h":78200,"l":78000,"c":78000,"v":3800},
{"t":"2023-03-02T14:55","o":78000,"h":78000,"l":77900,"c":77900,"v":5300},
{"t":"2023-03-02T14:56","o":77900,"h":77900,"l":77600,"c":77700,"v":9600},
{"t":"2023-03-02T14:57","o":77700,"h":77700,"l":77600,"c":77600,"v":4000},
{"t":"2023-03-02T14:58","o":77600,"h":77800,"l":77600,"c":77700,"v":800},
{"t":"2023-03-02T14:59","o":77700,"h":77700,"l":77500,"c":77600,"v":4900},
{"t":"2023-03-02T15:00","o":77500,"h":77700,"l":77500,"c":77700,"v":4200},
{"t":"2023-03-02T15:01","o":77600,"h":77700,"l":77500,"c":77700,"v":2100},
{"t":"2023-03-02T15:02","o":77700,"h":77700,"l":77400,"c":77500,"v":5500},
{"t":"2023-03-02T15:03","o":77500,"h":77500,"l":77100,"c":77200,"v":8400},
{"t":"2023-03-02T15:04","o":77200,"h":77200,"l":76900,"c":77000,"v":16200},
{"t":"2023-03-02T15:05","o":77000,"h":77000,"l":76700,"c":76800,"v":10000},
{"t":"2023-03-02T15:06","o":76800,"h":76800,"l":76600,"c":76600,"v":7600},
{"t":"2023-03-02T15:07","o":76600,"h":76600,"l":76000,"c":76000,"v":17500},
{"t":"2023-03-02T15:08","o":76000,"h":76500,"l":76000,"c":76500,"v":6100},
{"t":"2023-03-02T15:09","o":76300,"h":77100,"l":76300,"c":77100,"v":3500},
{"t":"2023-03-02T15:10","o":77000,"h":77600,"l":77000,"c":77600,"v":1500},
{"t":"2023-03-02T15:11","o":77600,"h":77600,"l":77200,"c":77300,"v":3500},
{"t":"2023-03-02T15:12","o":77300,"h":77400,"l":77100,"c":77200,"v":5500},
{"t":"2023-03-02T15:13","o":77100,"h":77200,"l":76900,"c":77200,"v":4400},
{"t":"2023-03-02T15:14","o":77200,"h":77300,"l":77100,"c":77300,"v":4900},
{"t":"2023-03-02T15:15","o":77300,"h":77300,"l":77200,"c":77200,"v":2100},
{"t":"2023-03-02T15:16","o":77200,"h":77400,"l":77200,"c":77400,"v":3100},
{"t":"2023-03-02T15:17","o":77300,"h":77400,"l":77300,"c":77400,"v":4000},
{"t":"2023-03-02T15:18","o":77400,"h":77400,"l":77200,"c":77200,"v":1000},
{"t":"2023-03-02T15:19","o":77400,"h":77400,"l":77300,"c":77300,"v":5600},
{"t":"2023-03-02T15:30","o":77600,"h":77600,"l":77600,"c":77600,"v":15800}
],
"news": [{"t":"2023-03-02T10:31","v":53300,"n":"2"}],
"ends": [{"t":"2023-03-02T08:59:20"},{"t":"2023-03-02T15:30:40"}]
},
"spacing": 21,
"vconcat": [
{
"width": 838, "height": 634,
"data": {"name": "k"},
"encoding": {"x": {"field": "t", "type": "temporal", "scale": {"domain": [{"year": 2023, "month": 3, "date": 2, "hours": 8, "minutes": 59, "seconds": 4}, {"year": 2023, "month": 3, "date": 2, "hours": 15, "minutes": 31, "seconds": 24}]}, "axis": {"values": [{"year": 2023, "month": 3, "date": 2, "hours": 9}, {"year": 2023, "month": 3, "date": 2, "hours": 10}, {"year": 2023, "month": 3, "date": 2, "hours": 11}, {"year": 2023, "month": 3, "date": 2, "hours": 12}, {"year": 2023, "month": 3, "date": 2, "hours": 13}, {"year": 2023, "month": 3, "date": 2, "hours": 14}, {"year": 2023, "month": 3, "date": 2, "hours": 15}], "labelExpr": "hours(datum.value) == 9 ? ['09:00', 'Mar 2, 2023'] : timeFormat(datum.value, '%H:%M')", "grid": false, "title": null, "labelPadding": 4}}},
"layer": [
{"layer": [
{"mark": {"type": "bar", "width": 1.3, "opacity": 0.32}, "encoding": {"y": {"field": "v", "type": "quantitative", "scale": {"domain": [-170, 53830], "nice": false, "zero": false}, "axis": {"orient": "right", "values": [0, 10000, 20000, 30000, 40000, 50000], "format": "~s", "labelExpr": "datum.value == 0 ? '0' : datum.label", "grid": true, "gridColor": {"condition": {"test": "datum.value === 0", "value": "white"}, "value": "gray"}, "gridWidth": {"condition": {"test": "datum.value === 0", "value": 2}, "value": 1}, "labelPadding": 3, "title": "Volume", "titlePadding": 12}}, "color": {"condition": {"test": "datum.c >= datum.o", "value": "red"}, "value": "blue"}}},
{"data": {"name": "news"}, "mark": {"type": "text", "baseline": "bottom", "dy": -1, "font": "DejaVu Sans", "fontSize": 12, "color": "#2a3f5f"}, "encoding": {"y": {"field": "v", "type": "quantitative"}, "text": {"field": "n"}}}
]},
{"layer": [
{"mark": {"type": "rule", "strokeWidth": 2}, "encoding": {"y": {"field": "l", "type": "quantitative", "scale": {"domain": [75620, 83180], "nice": false, "zero": false}, "axis": {"orient": "left", "values": [76000, 77000, 78000, 79000, 80000, 81000, 82000, 83000], "format": "~s", "grid": true, "gridColor": "white", "gridWidth": 1, "labelPadding": 4, "title": "Price", "titlePadding": 18}}, "y2": {"field": "h"}, "color": {"condition": {"test": "datum.c >= datum.o", "value": "red"}, "value": "blue"}}},
{"mark": {"type": "bar", "width": 1, "strokeWidth": 2}, "encoding": {"y": {"field": "o", "type": "quantitative"}, "y2": {"field": "c"}, "color": {"condition": {"test": "datum.c >= datum.o", "value": "red"}, "value": "blue"}, "stroke": {"condition": {"test": "datum.c >= datum.o", "value": "red"}, "value": "blue"}}}
]}
],
"resolve": {"scale": {"y": "independent"}}
},
{
"width": 835, "height": 120,
"data": {"name": "k"},
"encoding": {"x": {"field": "t", "type": "temporal", "scale": {"domain": [{"year": 2023, "month": 3, "date": 2, "hours": 8, "minutes": 59, "seconds": 20}, {"year": 2023, "month": 3, "date": 2, "hours": 15, "minutes": 30, "seconds": 40}]}, "axis": null}},
"layer": [
{"mark": {"type": "bar", "width": 1.3, "opacity": 0.32}, "encoding": {"y": {"field": "v", "type": "quantitative", "scale": {"domain": [0, 53830], "nice": false, "zero": false}, "axis": null}, "color": {"condition": {"test": "datum.c >= datum.o", "value": "red"}, "value": "blue"}}},
{"layer": [
{"mark": {"type": "rule", "strokeWidth": 2}, "encoding": {"y": {"field": "l", "type": "quantitative", "scale": {"domain": [75620, 83180], "nice": false, "zero": false}, "axis": null}, "y2": {"field": "h"}, "color": {"condition": {"test": "datum.c >= datum.o", "value": "red"}, "value": "blue"}}},
{"mark": {"type": "bar", "width": 1, "strokeWidth": 2}, "encoding": {"y": {"field": "o", "type": "quantitative", "axis": null}, "y2": {"field": "c"}, "color": {"condition": {"test": "datum.c >= datum.o", "value": "red"}, "value": "blue"}, "stroke": {"condition": {"test": "datum.c >= datum.o", "value": "red"}, "value": "blue"}}},
{"data": {"name": "ends"}, "mark": {"type": "rule", "strokeWidth": 6, "color": "#666666"}, "encoding": {"y": {"datum": 81000, "type": "quantitative", "axis": null}, "y2": {"datum": 77800}}},
{"data": {"name": "ends"}, "mark": {"type": "rule", "strokeWidth": 4, "color": "white"}, "encoding": {"y": {"datum": 80940, "type": "quantitative", "axis": null}, "y2": {"datum": 77860}}}
]}
],
"resolve": {"scale": {"y": "independent"}}
}
]
}
